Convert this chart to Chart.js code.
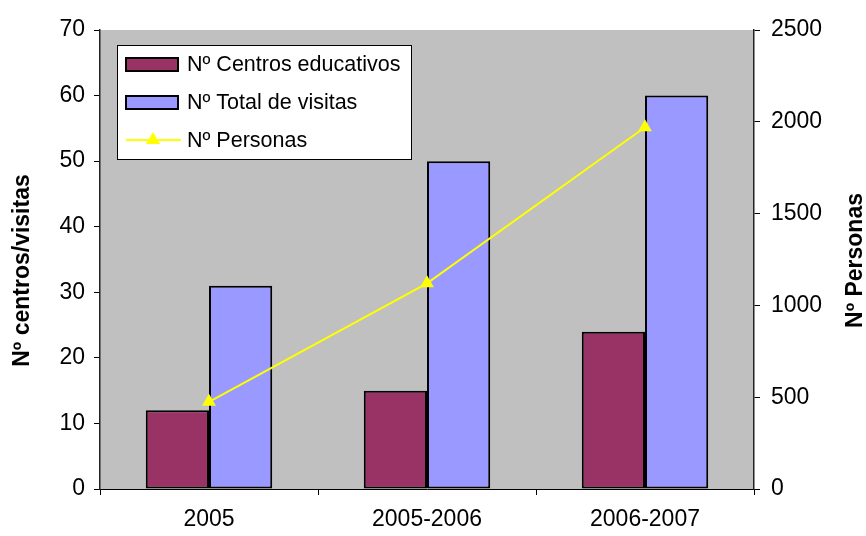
<!DOCTYPE html>
<html>
<head>
<meta charset="utf-8">
<script src="https://cdn.jsdelivr.net/npm/chart.js@4/dist/chart.umd.min.js"></script>
<style>
  body { margin: 0; background: #fff; }
  #wrap { width: 866px; height: 536px; }
</style>
</head>
<body>
<div id="wrap"><canvas id="chart" width="866" height="536"></canvas></div>
<script>
// datos del gráfico
var cursos = ['2005', '2005-2006', '2006-2007'];
var centros = [12, 15, 24];
var visitas = [31, 50, 60];
var personas = [475, 1120, 1970];

var tituloIzq = 'Nº centros/visitas';
var tituloDer = 'Nº Personas';

var FONT = 'Liberation Sans, Arial, sans-serif';

// fondo gris del área de trazado
var plotBg = {
  id: 'plotBg',
  beforeDraw: function(chart) {
    var a = chart.chartArea, ctx = chart.ctx;
    ctx.save();
    ctx.fillStyle = '#C0C0C0';
    ctx.fillRect(a.left, a.top, a.right - a.left, a.bottom - a.top);
    ctx.restore();
  }
};

// títulos de los ejes, girados de abajo hacia arriba
var axisTitles = {
  id: 'axisTitles',
  afterDraw: function(chart) {
    var a = chart.chartArea, ctx = chart.ctx;
    ctx.save();
    ctx.font = 'bold 23px ' + FONT;
    ctx.fillStyle = '#000';
    ctx.textAlign = 'center';
    ctx.textBaseline = 'middle';
    ctx.translate(23, (a.top + a.bottom) / 2 + 11);
    ctx.rotate(-Math.PI / 2);
    ctx.fillText(tituloIzq, 0, 0);
    ctx.restore();
    ctx.save();
    ctx.font = 'bold 23px ' + FONT;
    ctx.fillStyle = '#000';
    ctx.textAlign = 'center';
    ctx.textBaseline = 'middle';
    ctx.translate(chart.width - 10, (a.top + a.bottom) / 2 + 1);
    ctx.rotate(-Math.PI / 2);
    ctx.fillText(tituloDer, 0, 0);
    ctx.restore();
  }
};

// leyenda dentro del área de trazado
var boxLegend = {
  id: 'boxLegend',
  afterDraw: function(chart) {
    var a = chart.chartArea, ctx = chart.ctx;
    var ds = chart.data.datasets;
    var items = [ds[1], ds[2], ds[0]];
    var x = a.left + 17, y = a.top + 15, w = 294, h = 114;
    ctx.save();
    ctx.fillStyle = '#fff';
    ctx.fillRect(x, y, w, h);
    ctx.strokeStyle = '#000';
    ctx.lineWidth = 1;
    ctx.strokeRect(x + 0.5, y + 0.5, w, h);
    ctx.font = '21.5px ' + FONT;
    ctx.textBaseline = 'middle';
    items.forEach(function(d, i) {
      var cy = y + 19 + i * 38;
      if (d.type === 'line') {
        ctx.strokeStyle = d.borderColor;
        ctx.lineWidth = 2;
        ctx.beginPath();
        ctx.moveTo(x + 9, cy);
        ctx.lineTo(x + 64, cy);
        ctx.stroke();
        ctx.fillStyle = d.pointBackgroundColor;
        ctx.beginPath();
        ctx.moveTo(x + 36, cy - 8);
        ctx.lineTo(x + 43, cy + 4);
        ctx.lineTo(x + 29, cy + 4);
        ctx.closePath();
        ctx.fill();
      } else {
        ctx.fillStyle = d.backgroundColor;
        ctx.fillRect(x + 9, cy - 6, 52, 13);
        ctx.strokeStyle = '#000';
        ctx.lineWidth = 2;
        ctx.strokeRect(x + 9, cy - 6, 52, 13);
      }
      ctx.fillStyle = '#000';
      ctx.fillText(d.label, x + 70, cy + 1);
    });
    ctx.restore();
  }
};

var ctx = document.getElementById('chart').getContext('2d');
var myChart = new Chart(ctx, {
  data: {
    labels: cursos,
    datasets: [
      {
        type: 'line',
        label: 'Nº Personas',
        data: personas,
        yAxisID: 'y1',
        borderColor: '#FFFF00',
        borderWidth: 2,
        pointStyle: 'triangle',
        pointRadius: 8,
        pointBackgroundColor: '#FFFF00',
        pointBorderColor: '#FFFF00',
        pointBorderWidth: 0,
        tension: 0,
        order: 0
      },
      {
        type: 'bar',
        label: 'Nº Centros educativos',
        data: centros,
        yAxisID: 'y',
        backgroundColor: '#993366',
        borderColor: '#000',
        borderWidth: 2,
        borderSkipped: false,
        order: 1
      },
      {
        type: 'bar',
        label: 'Nº Total de visitas',
        data: visitas,
        yAxisID: 'y',
        backgroundColor: '#9999FF',
        borderColor: '#000',
        borderWidth: 2,
        borderSkipped: false,
        order: 1
      }
    ]
  },
  options: {
    responsive: false,
    animation: false,
    layout: { padding: { top: 30, left: 0, right: 0, bottom: 0 } },
    datasets: { bar: { categoryPercentage: 0.58, barPercentage: 1 } },
    plugins: { legend: { display: false }, tooltip: { enabled: false } },
    scales: {
      x: {
        offset: true,
        grid: { offset: true, drawOnChartArea: false, tickLength: 6, color: '#000' },
        border: { display: true, color: '#000', width: 1 },
        ticks: { color: '#000', font: { family: FONT, size: 23 }, padding: 11 },
        afterFit: function(s) { s.height = 47; }
      },
      y: {
        position: 'left',
        min: 0, max: 70,
        ticks: { stepSize: 10, color: '#000', font: { family: FONT, size: 23 }, padding: 9 },
        grid: { drawOnChartArea: false, tickLength: 6, color: '#000' },
        border: { display: true, color: '#222', width: 1.5 },
        afterFit: function(s) { s.width = 100; }
      },
      y1: {
        position: 'right',
        min: 0, max: 2500,
        ticks: {
          stepSize: 500, color: '#000', font: { family: FONT, size: 23 }, padding: 11,
          callback: function(v) { return String(v); }
        },
        grid: { drawOnChartArea: false, tickLength: 6, color: '#000' },
        border: { display: true, color: '#222', width: 1.5 },
        afterFit: function(s) { s.width = 112; }
      }
    }
  },
  plugins: [plotBg, axisTitles, boxLegend]
});
</script>
</body>
</html>
